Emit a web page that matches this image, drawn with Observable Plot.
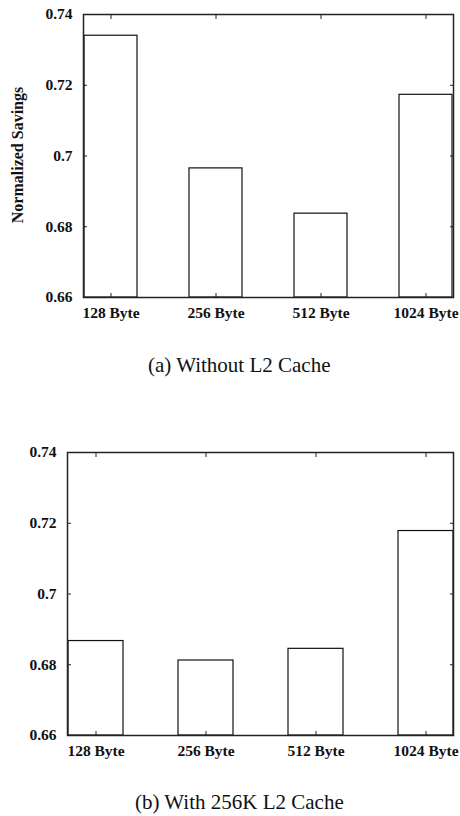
<!DOCTYPE html>
<html>
<head>
<meta charset="utf-8">
<script src="https://cdn.jsdelivr.net/npm/d3@7"></script>
<script src="https://cdn.jsdelivr.net/npm/@observablehq/plot@0.6"></script>
<style>
  body { margin: 0; background: #fff; }
  #wrap { position: relative; width: 460px; height: 816px; overflow: hidden; font-family: "Liberation Serif", "Times New Roman", serif; }
  .panel { position: absolute; left: 0; }
  .cap { position: absolute; font-size: 21px; color: #111; white-space: nowrap; line-height: 1; }
  .ylab { position: absolute; font-size: 16px; font-weight: bold; color: #111; white-space: nowrap; transform: translate(-50%, -50%) rotate(-90deg); }
</style>
</head>
<body>
<div id="wrap">
  <div id="p1" class="panel" style="top:0px"></div>
  <div class="ylab" style="left:18px; top:155px;">Normalized Savings</div>
  <div class="cap" style="left:148px; top:355px;">(a) Without L2 Cache</div>
  <div id="p2" class="panel" style="top:440px"></div>
  <div class="cap" style="left:135px; top:792px;">(b) With 256K L2 Cache</div>
</div>
<script>
const categories = ["128 Byte", "256 Byte", "512 Byte", "1024 Byte"];
const withoutL2 = [0.734, 0.6965, 0.6837, 0.7173];
const with256K = [0.6867, 0.6812, 0.6845, 0.7178];
const yTicks = [0.66, 0.68, 0.70, 0.72, 0.74];
const yTickLabels = ["0.66", "0.68", "0.7", "0.72", "0.74"];
const yDomain = [0.66, 0.74];

function panel(values, opts) {
  const data = categories.map((c, i) => ({cat: c, value: values[i]}));
  const fmt = (d) => yTickLabels[yTicks.indexOf(d)] ?? "";
  return Plot.plot({
    width: 460,
    height: opts.height,
    marginLeft: opts.marginLeft,
    marginRight: 7,
    marginTop: opts.marginTop,
    marginBottom: 33,
    style: {fontFamily: "'Liberation Serif', 'Times New Roman', serif", fontSize: "15.5px", fontWeight: "bold", color: "#111", background: "transparent"},
    x: {domain: categories, padding: 0.5, paddingOuter: 0, align: 0.5},
    y: {domain: yDomain},
    marks: [
      Plot.barY(data, {x: "cat", y1: yDomain[0], y2: "value", fill: "white", stroke: "#111", strokeWidth: 1.2}),
      Plot.axisY({anchor: "left", ticks: yTicks, tickSize: -4, tickPadding: 15, tickFormat: fmt, label: null, stroke: "#222"}),
      Plot.axisY({anchor: "right", ticks: yTicks, tickSize: -4, tickFormat: () => "", label: null, stroke: "#222"}),
      Plot.axisX({anchor: "bottom", tickSize: -4, tickPadding: 13, label: null, stroke: "#222"}),
      Plot.axisX({anchor: "top", tickSize: -4, tickFormat: () => "", label: null, stroke: "#222"}),
      Plot.frame({stroke: "#222", strokeWidth: 1.5})
    ]
  });
}

document.getElementById("p1").appendChild(panel(withoutL2, {height: 330, marginLeft: 83, marginTop: 14}));
document.getElementById("p2").appendChild(panel(with256K, {height: 328, marginLeft: 67, marginTop: 12}));
</script>
</body>
</html>
